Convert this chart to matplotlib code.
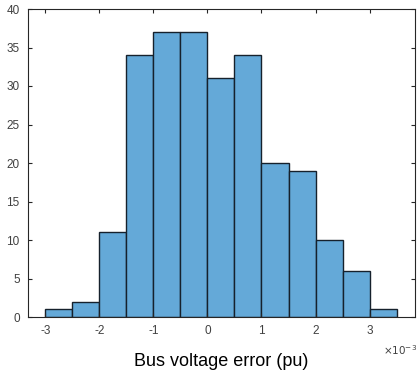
import matplotlib
matplotlib.use("Agg")
import matplotlib.pyplot as plt
import numpy as np

bin_edges = [-3.0, -2.5, -2.0, -1.5, -1.0, -0.5, 0.0, 0.5, 1.0, 1.5, 2.0, 2.5, 3.0, 3.5]  # x1e-3
counts = [1, 2, 11, 34, 37, 37, 31, 34, 20, 19, 10, 6, 1]
xticks = [-3, -2, -1, 0, 1, 2, 3]
yticks = [0, 5, 10, 15, 20, 25, 30, 35, 40]

plt.rcParams['font.family'] = ['Liberation Sans', 'DejaVu Sans']
fig = plt.figure(figsize=(4.17, 3.75), dpi=100)
ax = fig.add_axes([28/417, 1-317/375, (415-28)/417, (317-9)/375])

edges = np.array(bin_edges)
ax.bar(edges[:-1], counts, width=np.diff(edges), align='edge',
       color='#64A9D8', edgecolor='#16212c', linewidth=1.0)

ax.set_xlim(-3.32, 3.84)
ax.set_ylim(0, 40)
ax.set_xticks(xticks)
ax.set_yticks(yticks)
ax.set_xticklabels([str(t) for t in xticks])
ax.tick_params(direction='in', top=True, right=True, length=3, width=0.8,
               labelsize=8.5, colors='#262626', labelcolor='#404040', pad=6)
for s in ax.spines.values():
    s.set_color('#262626')
    s.set_linewidth(0.8)

ax.set_xlabel('Bus voltage error (pu)', fontsize=13, color='black', labelpad=11)
fig.text(400/417, 1-350/375, r'$\times10^{-3}$', fontsize=7.5, color='#404040',
         ha='center', va='center')

fig.savefig('out.png', dpi=100)
